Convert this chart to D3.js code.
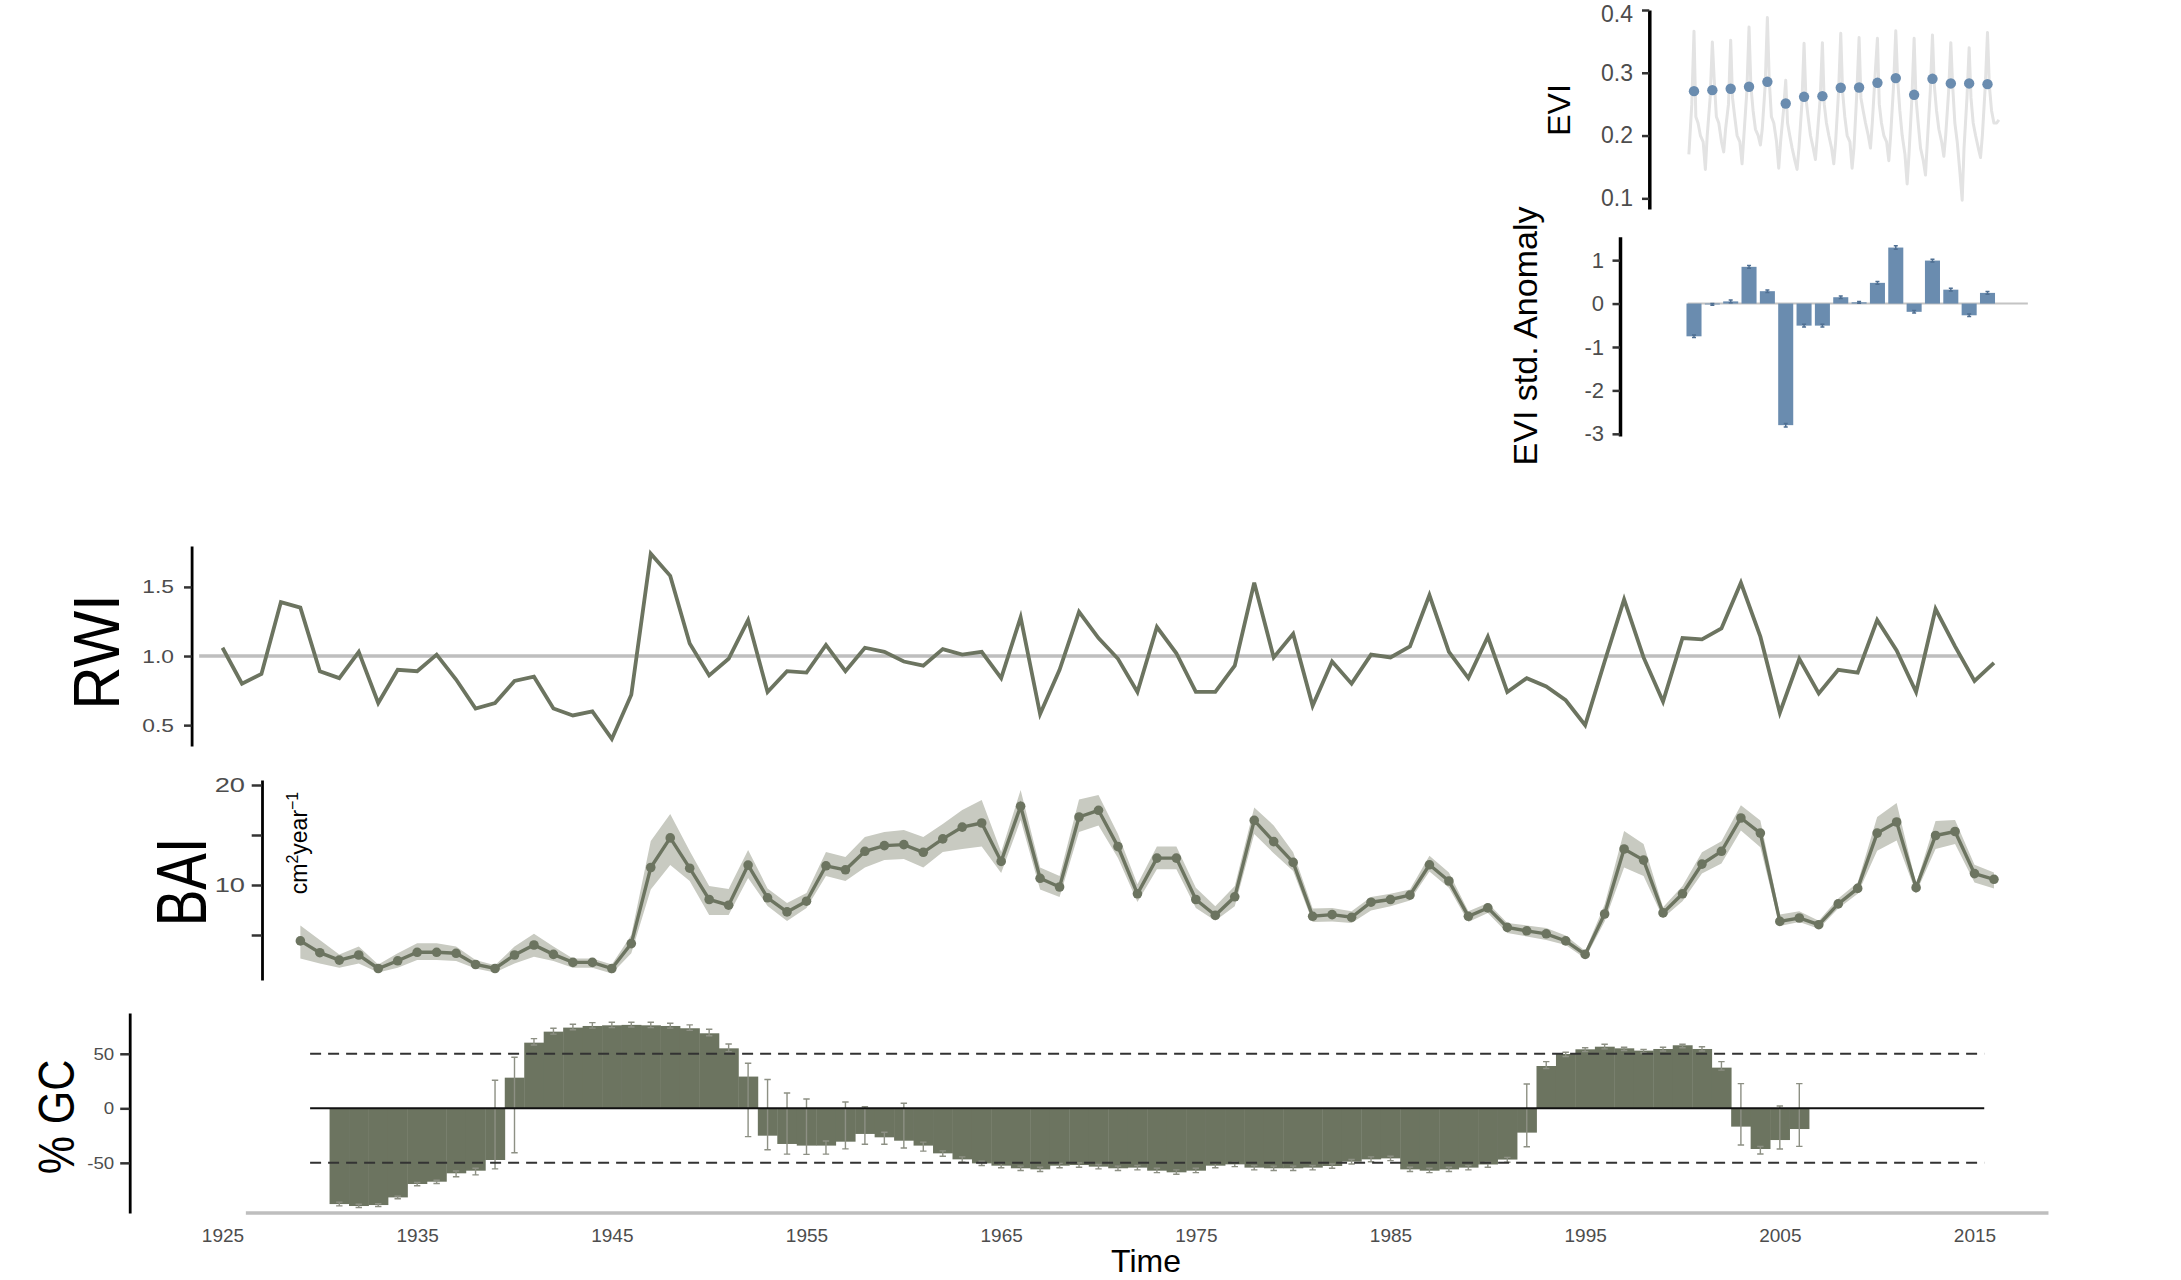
<!DOCTYPE html>
<html>
<head>
<meta charset="utf-8">
<script src="https://cdn.jsdelivr.net/npm/d3@7"></script>
<style>
html, body { margin: 0; padding: 0; background: #ffffff; }
svg { display: block; font-family: "Liberation Sans", Arial, Helvetica, sans-serif; }
</style>
</head>
<body>
<svg id="chart" width="2181" height="1280"></svg>
<script>
// ---------------- DATA ----------------
// EVI inset (2000-2016)
const eviYears = [2000,2001,2002,2003,2004,2005,2006,2007,2008,2009,2010,2011,2012,2013,2014,2015,2016];
const eviMean = [0.2707,0.2723,0.2745,0.2777,0.2856,0.2511,0.2617,0.2628,0.2761,0.2766,0.2840,0.2915,0.2649,0.2904,0.2830,0.2830,0.2819];
// within-year sampling phases (fraction of a year) of the grey EVI series
const eviPhase = [-0.28,-0.12,0,0.1,0.22,0.35,0.5,0.62];
const eviSeries = [
  [0.17,0.25,0.366,0.23,0.22,0.20,0.19,0.146],
  [0.20,0.26,0.349,0.29,0.23,0.22,0.19,0.174],
  [0.21,0.25,0.352,0.26,0.23,0.20,0.19,0.155],
  [0.20,0.27,0.373,0.28,0.24,0.21,0.20,0.185],
  [0.21,0.28,0.388,0.29,0.23,0.22,0.19,0.148],
  [0.19,0.24,0.288,0.22,0.20,0.18,0.16,0.146],
  [0.18,0.25,0.347,0.26,0.23,0.20,0.18,0.162],
  [0.20,0.26,0.348,0.25,0.22,0.20,0.18,0.155],
  [0.19,0.27,0.363,0.27,0.23,0.20,0.19,0.148],
  [0.18,0.27,0.356,0.26,0.24,0.22,0.20,0.180],
  [0.22,0.30,0.355,0.25,0.22,0.20,0.19,0.160],
  [0.20,0.28,0.367,0.29,0.24,0.20,0.17,0.123],
  [0.17,0.26,0.355,0.26,0.22,0.18,0.16,0.137],
  [0.19,0.27,0.360,0.28,0.24,0.21,0.19,0.167],
  [0.20,0.27,0.348,0.28,0.22,0.19,0.14,0.097],
  [0.18,0.26,0.340,0.26,0.22,0.20,0.18,0.165],
  [0.20,0.28,0.364,0.28,0.24,0.22,0.22,0.225]
];
const eviAnom = [-0.754,-0.02,0.05,0.846,0.285,-2.80,-0.508,-0.508,0.146,0.03,0.477,1.29,-0.19,0.99,0.32,-0.27,0.246];
const eviAnomSe = [0.03,0.02,0.03,0.03,0.03,0.04,0.03,0.03,0.03,0.02,0.03,0.04,0.03,0.03,0.03,0.03,0.03];
const eviTicks = [0.1,0.2,0.3,0.4];
const anomTicks = [-3,-2,-1,0,1];

// RWI 1925-2016
const rwiFirstYear = 1925;
const rwiValues = [
  1.06,0.80,0.87,1.39,1.35,0.89,0.84,1.03,0.66,0.90,
  0.89,1.01,0.83,0.62,0.66,0.82,0.85,0.62,0.57,0.60,
  0.40,0.72,1.74,1.58,1.09,0.86,0.98,1.26,0.74,0.89,
  0.88,1.08,0.89,1.06,1.03,0.96,0.93,1.05,1.01,1.03,
  0.84,1.28,0.58,0.90,1.32,1.13,0.98,0.74,1.21,1.02,
  0.74,0.74,0.93,1.53,0.99,1.16,0.64,0.96,0.80,1.01,
  0.99,1.07,1.44,1.03,0.84,1.14,0.74,0.84,0.78,0.68,
  0.50,0.96,1.41,0.99,0.67,1.13,1.12,1.20,1.53,1.14,
  0.59,0.98,0.73,0.90,0.88,1.26,1.04,0.74,1.34,1.07,
  0.82,0.95
];
const rwiTicks = [0.5,1.0,1.5];

// BAI 1929-2016 (cm2 / year) with ribbon bounds
const baiFirstYear = 1929;
const baiValues = [
  4.41,3.23,2.49,3.00,1.65,2.42,3.27,3.27,3.17,2.05,
  1.65,3.00,4.00,3.06,2.26,2.26,1.65,4.14,11.75,14.71,
  11.68,8.55,7.98,11.99,8.72,7.31,8.38,11.92,11.52,13.37,
  13.94,14.04,13.27,14.61,15.79,16.2,12.36,17.88,10.67,9.80,
  16.8,17.47,13.84,9.12,12.69,12.69,8.55,6.97,8.82,16.46,
  14.34,12.26,6.87,7.04,6.77,8.28,8.55,8.99,12.02,10.40,
  6.87,7.71,5.76,5.42,5.12,4.41,3.06,7.10,13.6,12.49,
  7.21,9.12,12.09,13.37,16.7,15.19,6.36,6.70,6.03,8.11,
  9.66,15.19,16.3,9.73,14.95,15.35,11.14,10.57
];
const baiUpper = [
  5.96,4.51,3.06,3.84,2.05,3.17,4.18,4.18,3.84,2.49,
  1.98,3.84,5.12,3.84,2.66,2.66,2.05,5.0,14.4,17.1,
  13.4,9.9,9.6,13.5,9.66,8.2,9.2,13.3,12.8,14.8,
  15.3,15.5,14.8,16.1,17.5,18.5,13.3,19.5,11.75,10.9,
  18.55,19.0,15.1,10.07,13.84,13.84,9.73,7.88,9.9,17.74,
  15.96,13.27,7.64,7.7,7.37,8.79,9.12,9.56,12.93,11.25,
  7.37,8.2,6.2,5.96,5.69,4.95,3.4,8.05,15.39,14.11,
  7.78,9.9,13.27,14.38,17.98,16.46,7.04,7.37,6.43,8.65,
  10.24,16.8,18.2,10.13,16.4,16.5,12.02,11.25
];
const baiLower = [
  2.66,2.15,1.72,2.15,1.25,1.72,2.49,2.49,2.39,1.65,
  1.25,2.15,2.83,2.39,1.72,1.72,1.14,3.17,9.56,12.0,
  10.4,7.0,7.0,10.7,7.9,6.4,7.7,10.9,10.4,11.75,
  12.5,12.6,11.75,13.3,13.6,13.84,11.2,16.5,9.56,8.8,
  15.3,15.96,12.7,8.3,11.58,11.58,7.7,6.43,7.88,15.1,
  13.17,11.41,6.3,6.36,6.2,7.44,7.88,8.45,11.35,9.73,
  6.3,7.2,5.19,4.85,4.51,4.0,2.66,6.36,11.75,10.9,
  6.7,8.38,11.14,12.15,15.45,13.77,5.9,6.3,5.62,7.64,
  9.12,13.43,14.44,9.23,13.6,14.1,10.24,9.66
];
const baiTicks = [5,10,15,20];

// % growth change 1931-2006
const gcFirstYear = 1931;
const gcValues = [
  -87.8,-89.6,-88.7,-81.7,-69.4,-67.3,-59.6,-57.2,-47.4,28.1,
  60.2,70.3,74.0,75.5,76.1,76.5,76.1,75.5,73.4,68.8,
  55.0,29.1,-25.1,-32.7,-34.2,-34.2,-30.6,-23.5,-26.6,-29.7,
  -34.2,-41.3,-46.8,-50.5,-52.6,-55.0,-56.0,-52.6,-52.0,-53.5,
  -55.0,-54.4,-57.2,-58.7,-57.2,-52.6,-51.4,-54.4,-55.0,-55.0,
  -54.4,-52.9,-48.9,-46.8,-45.9,-56.0,-57.2,-56.0,-54.4,-51.5,
  -47.0,-22.3,38.8,49.8,54.1,56.5,55.0,52.9,54.4,57.8,
  54.4,37.3,-16.8,-37.3,-29.1,-19.0
];
const gcLow = [
  -89.5,-91.0,-90.0,-83.0,-71.0,-69.0,-62.7,-61.0,-55.5,-40.7,
  58.0,68.0,72.0,73.5,74.0,74.5,74.0,73.5,71.5,66.5,
  52.0,-26.0,-38.0,-42.0,-42.2,-42.0,-37.2,-33.0,-33.0,-36.4,
  -39.3,-44.0,-49.5,-52.5,-54.5,-57.0,-58.0,-54.5,-54.0,-55.5,
  -57.0,-56.5,-59.0,-60.5,-59.0,-54.5,-53.5,-56.5,-57.0,-57.0,
  -56.5,-55.0,-51.0,-49.0,-48.0,-58.0,-59.0,-58.0,-56.5,-54.0,
  -49.5,-35.2,36.5,47.5,52.0,54.5,53.0,51.0,52.5,55.5,
  52.5,35.0,-33.6,-41.9,-37.3,-34.9
];
const gcHigh = [
  -86.0,-88.0,-87.5,-80.5,-68.0,-66.0,-57.5,-55.0,25.7,46.8,
  63.9,73.4,77.1,78.6,78.9,78.9,78.9,78.0,76.5,72.5,
  59.0,41.3,26.4,14.0,8.6,-30.0,5.8,1.5,-22.0,4.6,
  -31.0,-39.0,-44.5,-48.5,-50.5,-53.0,-54.0,-50.5,-50.0,-51.5,
  -53.0,-52.5,-55.0,-56.5,-55.0,-50.5,-49.5,-52.5,-53.0,-53.0,
  -52.5,-51.0,-47.0,-44.5,-44.0,-54.0,-55.0,-54.0,-52.5,-49.5,
  -45.0,22.3,42.8,51.4,55.5,58.7,56.0,54.0,56.0,58.7,
  56.4,42.8,22.6,-35.0,2.1,22.6
];
const gcTicks = [-50,0,50];
const gcThreshold = [-50,50];
const timeTicks = [1925,1935,1945,1955,1965,1975,1985,1995,2005,2015];

// ---------------- STYLE ----------------
const FONT = '"Liberation Sans", Arial, Helvetica, sans-serif';
const OLIVE = "#6c7460";
const RIBBON = "#c8cac1";
const BLUE = "#6a8caf";
const TICKTXT = "#4d4d4d";

const svg = d3.select("#chart");

// ---------------- SCALES ----------------
const xMain = d3.scaleLinear().domain([1925, 2015]).range([222.5, 1974.5]);
const xEvi = d3.scaleLinear().domain([2000, 2016]).range([1694, 1987.5]);
const yEvi = d3.scaleLinear().domain([0.083, 0.4]).range([209, 10]);
const yAnom = d3.scaleLinear().domain([-3.05, 1.54]).range([436, 236.7]);
const yRwi = d3.scaleLinear().domain([0.349, 1.796]).range([746, 546]);
const yBai = d3.scaleLinear().domain([0.5, 20.5]).range([980, 780]);
const yGc = d3.scaleLinear().domain([-96, 87.4]).range([1213, 1013]);

function leftAxis(x, scale, ticks, fmt, o) {
  const ax = d3.axisLeft(scale).tickValues(ticks).tickFormat(fmt)
    .tickSizeInner(o.size).tickSizeOuter(0).tickPadding(o.pad);
  const g = svg.append("g").attr("transform", `translate(${x},0)`).call(ax);
  g.select(".domain").attr("stroke", "#000").attr("stroke-width", o.lw || 3);
  g.selectAll(".tick line").attr("stroke", "#333").attr("stroke-width", o.tw || 2.5);
  const t = g.selectAll(".tick text").attr("fill", TICKTXT)
    .attr("font-size", o.fs).attr("font-family", FONT);
  if (o.sx) t.attr("transform", `scale(${o.sx},1)`).attr("x", -(o.size + o.pad) / o.sx);
  return g;
}

function rotLabel(x, y, txt, size, sx) {
  return svg.append("text")
    .attr("transform", `translate(${x},${y}) scale(${sx || 1},1) rotate(-90)`)
    .attr("text-anchor", "middle")
    .attr("font-family", FONT).attr("font-size", size).attr("fill", "#000")
    .text(txt);
}

// ---------------- EVI PANEL ----------------
const eviPts = [];
eviYears.forEach((yr, i) => eviPhase.forEach((ph, j) => eviPts.push([yr + ph, eviSeries[i][j]])));
svg.append("path").datum(eviPts)
  .attr("d", d3.line().x(d => xEvi(d[0])).y(d => yEvi(d[1])))
  .attr("fill", "none").attr("stroke", "#e3e3e3").attr("stroke-width", 3).attr("stroke-linejoin", "round");
svg.append("g").selectAll("circle").data(eviYears).join("circle")
  .attr("cx", d => xEvi(d)).attr("cy", (d, i) => yEvi(eviMean[i])).attr("r", 5.2).attr("fill", BLUE);
const eviAxis = leftAxis(1649.3, yEvi, eviTicks, d3.format(".1f"), {size: 7.3, pad: 9, fs: 23, lw: 3.5});
// the top label sits a little below its tick in the reference
eviAxis.selectAll(".tick text").filter(d => d === 0.4).attr("dy", "0.48em");
rotLabel(1570, 110, "EVI", 32);

// ---------------- ANOMALY PANEL ----------------
svg.append("line")
  .attr("x1", xEvi(1999.65)).attr("x2", xEvi(2018.2))
  .attr("y1", yAnom(0)).attr("y2", yAnom(0))
  .attr("stroke", "#c4c4c4").attr("stroke-width", 2);
const bw = (xEvi(2001) - xEvi(2000)) * 0.82;
svg.append("g").selectAll("rect").data(eviYears).join("rect")
  .attr("x", d => xEvi(d) - bw / 2).attr("width", bw)
  .attr("y", (d, i) => yAnom(Math.max(0, eviAnom[i])))
  .attr("height", (d, i) => Math.abs(yAnom(eviAnom[i]) - yAnom(0)))
  .attr("fill", BLUE);
svg.append("g").selectAll("path").data(eviYears).join("path")
  .attr("d", (d, i) => {
    const x = xEvi(d), v = eviAnom[i], s = eviAnomSe[i];
    const y1 = yAnom(v - s), y2 = yAnom(v + s);
    return `M${x},${y1}V${y2}M${x-2},${y1}H${x+2}M${x-2},${y2}H${x+2}`;
  })
  .attr("stroke", "#4f6f92").attr("stroke-width", 1.5).attr("fill", "none");
leftAxis(1620, yAnom, anomTicks, d => String(d), {size: 7.5, pad: 8.5, fs: 22, lw: 3.5});
rotLabel(1537, 336, "EVI std. Anomaly", 34);

// ---------------- RWI PANEL ----------------
svg.append("line")
  .attr("x1", xMain(1923.8)).attr("x2", xMain(2014.3))
  .attr("y1", yRwi(1)).attr("y2", yRwi(1))
  .attr("stroke", "#bebebe").attr("stroke-width", 3.5);
svg.append("path").datum(rwiValues)
  .attr("d", d3.line().x((d, i) => xMain(rwiFirstYear + i)).y(d => yRwi(d)))
  .attr("fill", "none").attr("stroke", OLIVE).attr("stroke-width", 3.8).attr("stroke-linejoin", "miter");
leftAxis(191.6, yRwi, rwiTicks, d3.format(".1f"), {size: 7.6, pad: 10, fs: 19, sx: 1.2, lw: 2.8});
rotLabel(119, 652, "RWI", 60, 1.08);

// ---------------- BAI PANEL ----------------
svg.append("path").datum(baiValues)
  .attr("d", d3.area().x((d, i) => xMain(baiFirstYear + i))
    .y0((d, i) => yBai(baiLower[i])).y1((d, i) => yBai(baiUpper[i])))
  .attr("fill", RIBBON).attr("stroke", "none");
svg.append("path").datum(baiValues)
  .attr("d", d3.line().x((d, i) => xMain(baiFirstYear + i)).y(d => yBai(d)))
  .attr("fill", "none").attr("stroke", OLIVE).attr("stroke-width", 3.4);
svg.append("g").selectAll("circle").data(baiValues).join("circle")
  .attr("cx", (d, i) => xMain(baiFirstYear + i)).attr("cy", d => yBai(d)).attr("r", 4.8).attr("fill", OLIVE);
leftAxis(262, yBai, baiTicks, d => (d % 10 === 0 ? String(d) : ""), {size: 10.3, pad: 6.7, fs: 21, sx: 1.3, lw: 2.8});
rotLabel(206, 882, "BAI", 55, 1.28);
const unit = svg.append("text")
  .attr("transform", "translate(306.5,843) rotate(-90)")
  .attr("text-anchor", "middle").attr("font-family", FONT).attr("font-size", 23).attr("fill", "#000");
unit.append("tspan").text("cm");
unit.append("tspan").attr("font-size", 16).attr("dy", -9).text("2");
unit.append("tspan").attr("dy", 9).text("year");
unit.append("tspan").attr("font-size", 16).attr("dy", -9).text("\u22121");

// ---------------- GC PANEL ----------------
const gcYears = gcValues.map((v, i) => gcFirstYear + i);
svg.append("g").selectAll("rect").data(gcYears).join("rect")
  .attr("x", d => xMain(d - 0.5))
  .attr("width", d => xMain(d + 0.5) - xMain(d - 0.5) + 0.4)
  .attr("y", (d, i) => yGc(Math.max(0, gcValues[i])))
  .attr("height", (d, i) => Math.abs(yGc(gcValues[i]) - yGc(0)))
  .attr("fill", OLIVE);
svg.append("g").selectAll("path").data(gcYears).join("path")
  .attr("d", (d, i) => {
    const x = xMain(d), y1 = yGc(gcLow[i]), y2 = yGc(gcHigh[i]);
    return `M${x},${y1}V${y2}M${x-3.2},${y1}H${x+3.2}M${x-3.2},${y2}H${x+3.2}`;
  })
  .attr("stroke", "#8d9084").attr("stroke-width", 1.4).attr("fill", "none");
svg.append("g").selectAll("line").data(gcThreshold).join("line")
  .attr("x1", xMain(1929.5)).attr("x2", xMain(2015.5))
  .attr("y1", d => yGc(d)).attr("y2", d => yGc(d))
  .attr("stroke", "#333").attr("stroke-width", 2).attr("stroke-dasharray", "11,7");
svg.append("line")
  .attr("x1", xMain(1929.5)).attr("x2", xMain(2015.5))
  .attr("y1", yGc(0)).attr("y2", yGc(0))
  .attr("stroke", "#111").attr("stroke-width", 2);
leftAxis(129.7, yGc, gcTicks, d => String(d), {size: 9.5, pad: 6, fs: 17, sx: 1.1, lw: 2.8});
rotLabel(74, 1117, "% GC", 43, 1.18);

// ---------------- TIME AXIS ----------------
const xAxisG = svg.append("g").attr("transform", "translate(0,1213)")
  .call(d3.axisBottom(xMain).tickValues(timeTicks).tickFormat(d => String(d))
    .tickSizeInner(0).tickSizeOuter(0).tickPadding(16));
xAxisG.select(".domain").remove();
xAxisG.selectAll(".tick line").remove();
xAxisG.selectAll(".tick text").attr("fill", TICKTXT).attr("font-size", 19).attr("font-family", FONT);
svg.append("line")
  .attr("x1", xMain(1926.2)).attr("x2", xMain(2018.8))
  .attr("y1", 1213).attr("y2", 1213)
  .attr("stroke", "#bebebe").attr("stroke-width", 3.5);
svg.append("text")
  .attr("x", 1146).attr("y", 1272)
  .attr("text-anchor", "middle").attr("font-family", FONT).attr("font-size", 32).attr("fill", "#000")
  .text("Time");
</script>
</body>
</html>
